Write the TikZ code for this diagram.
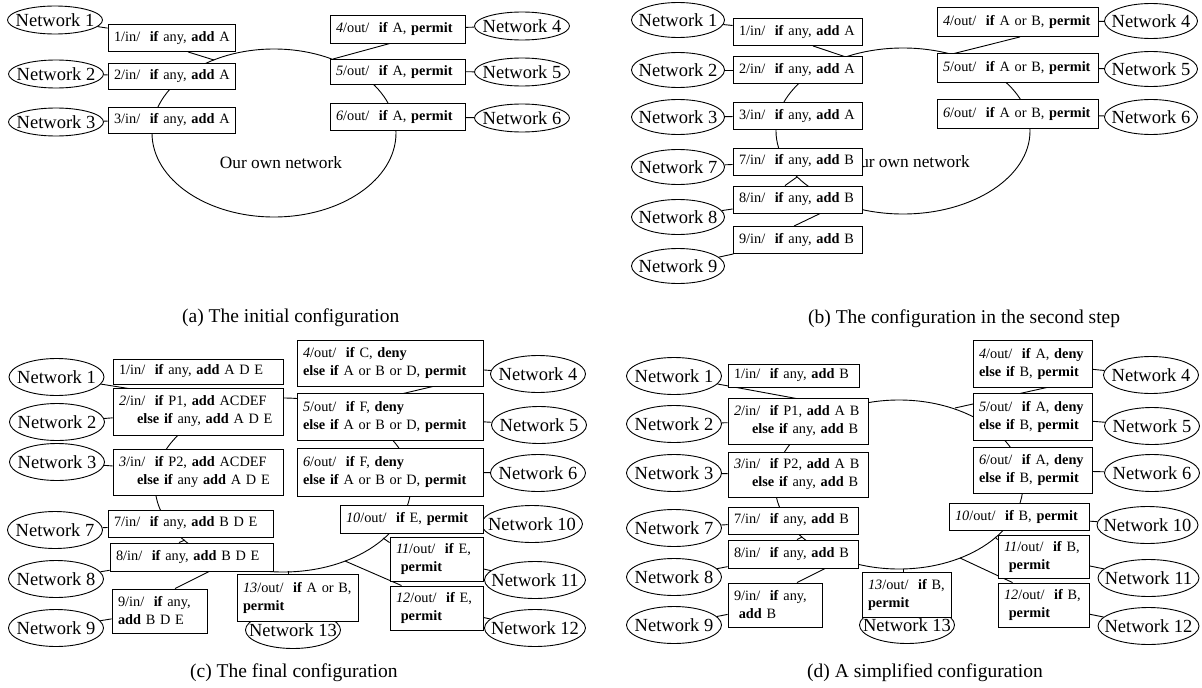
\documentclass[tikz,border=0pt]{standalone}
\usepackage{fontspec}
\setmainfont{Liberation Serif}
\usetikzlibrary{shapes.geometric}
\pgfdeclarelayer{back}
\pgfsetlayers{back,main}
\newcommand{\nwk}[1]{\makebox[0pt]{Network #1}}
\newcommand{\bd}[1]{\textbf{#1}}
\newcommand{\mybox}[6]{\node[box, text width=#4pt-12pt, minimum height=#5pt] (#1) at (#2,#3) {#6};}
\tikzset{
  box/.style={draw, fill=white, line width=0.9pt, inner xsep=6pt, inner ysep=0pt, align=left, font=\fontsize{14.3}{18}\selectfont},
  netw/.style={draw, fill=white, ellipse, line width=0.9pt, inner sep=0pt, font=\fontsize{18.5}{20}\selectfont},
  nA/.style={netw, minimum width=95pt, minimum height=28pt},
  nB/.style={netw, minimum width=93pt, minimum height=35pt},
  nC/.style={netw, minimum width=95pt, minimum height=37pt},
  nW/.style={netw, minimum width=101pt, minimum height=37pt},
  own/.style={draw, ellipse, line width=0.9pt, inner sep=0pt},
  owntxt/.style={inner sep=0pt, font=\fontsize{17.3}{18}\selectfont},
  conn/.style={line width=0.9pt},
  captxt/.style={inner sep=0pt, anchor=west, font=\fontsize{19.5}{22}\selectfont}
}
\begin{document}
\begin{tikzpicture}[x=1pt,y=-1pt]
\useasboundingbox (0,0) rectangle (1202,688);

% ---------- big ellipses ----------
\node[own, minimum width=244pt, minimum height=168pt] (Ea) at (274,133) {};
\node[own, minimum width=254pt, minimum height=166pt] (Eb) at (903,131) {};
\node[own, minimum width=256pt, minimum height=174pt] (Ec) at (283,485) {};
\node[own, minimum width=248pt, minimum height=169pt] (Ed) at (899,484.5) {};
\node[owntxt] (Ta) at (281,163) {Our own network};
\node[owntxt, anchor=east] (Tb) at (970,162) {Our own network};

% ---------- panel (a) ----------
\node[nA] (Na1) at (55,20) {\nwk{1}};
\node[nA] (Na2) at (56,74) {\nwk{2}};
\node[nA] (Na3) at (56,122) {\nwk{3}};
\node[nA] (Na4) at (522,26) {\nwk{4}};
\node[nA] (Na5) at (522,72) {\nwk{5}};
\node[nA] (Na6) at (522,118) {\nwk{6}};
\mybox{Ba1}{171.5}{38}{127}{27}{\mbox{1/in/\ \ \bd{if} any, \bd{add} A}}
\mybox{Ba2}{171.5}{76}{127}{26}{\mbox{2/in/\ \ \bd{if} any, \bd{add} A}}
\mybox{Ba3}{171.5}{120}{127}{26}{\mbox{3/in/\ \ \bd{if} any, \bd{add} A}}
\mybox{Ba4}{397.5}{29}{135}{28}{\mbox{\textit{4}/out/\ \ \bd{if} A, \bd{permit}}}
\mybox{Ba5}{397.5}{71.5}{135}{25}{\mbox{\textit{5}/out/\ \ \bd{if} A, \bd{permit}}}
\mybox{Ba6}{397.5}{117}{135}{27}{\mbox{\textit{6}/out/\ \ \bd{if} A, \bd{permit}}}
\coordinate (ea1) at (214,60);
\coordinate (ea4) at (333,59);

% ---------- panel (b) ----------
\node[nB] (Nb1) at (678,20) {\nwk{1}};
\node[nB] (Nb2) at (678,70) {\nwk{2}};
\node[nB] (Nb3) at (678,117) {\nwk{3}};
\node[nB] (Nb7) at (678,167) {\nwk{7}};
\node[nB] (Nb8) at (678,217) {\nwk{8}};
\node[nB] (Nb9) at (678,266) {\nwk{9}};
\node[nB] (Nb4) at (1151,21) {\nwk{4}};
\node[nB] (Nb5) at (1151,69) {\nwk{5}};
\node[nB] (Nb6) at (1151,117) {\nwk{6}};
\mybox{Bb1}{797.5}{32}{129}{27}{\mbox{1/in/\ \ \bd{if} any, \bd{add} A}}
\mybox{Bb2}{797.5}{70}{129}{27}{\mbox{2/in/\ \ \bd{if} any, \bd{add} A}}
\mybox{Bb3}{797.5}{116}{129}{27}{\mbox{3/in/\ \ \bd{if} any, \bd{add} A}}
\mybox{Bb7}{797.5}{161.5}{129}{27}{\mbox{7/in/\ \ \bd{if} any, \bd{add} B}}
\mybox{Bb8}{797.5}{199.5}{129}{27}{\mbox{8/in/\ \ \bd{if} any, \bd{add} B}}
\mybox{Bb9}{797.5}{240}{129}{27}{\mbox{9/in/\ \ \bd{if} any, \bd{add} B}}
\mybox{Bb4}{1017.5}{22}{161}{29}{\mbox{\textit{4}/out/\ \ \bd{if} A or B, \bd{permit}}}
\mybox{Bb5}{1017.5}{68}{161}{29}{\mbox{\textit{5}/out/\ \ \bd{if} A or B, \bd{permit}}}
\mybox{Bb6}{1017.5}{114}{161}{29}{\mbox{\textit{6}/out/\ \ \bd{if} A or B, \bd{permit}}}
\coordinate (eb1) at (846,57);
\coordinate (eb8) at (797,177);
\coordinate (eb9) at (842,203);
\coordinate (eb4) at (952,54);

% ---------- panel (c) ----------
\node[nC] (Nc1) at (56.5,377) {\nwk{1}};
\node[nC] (Nc2) at (57,422) {\nwk{2}};
\node[nC] (Nc3) at (57,462) {\nwk{3}};
\node[nC] (Nc7) at (55,530) {\nwk{7}};
\node[nC] (Nc8) at (56,579) {\nwk{8}};
\node[nC] (Nc9) at (56,628) {\nwk{9}};
\node[nC] (Nc4) at (538,374) {\nwk{4}};
\node[nC] (Nc5) at (539,425) {\nwk{5}};
\node[nC] (Nc6) at (538,473) {\nwk{6}};
\node[nW] (Nc10) at (532,524) {\nwk{10}};
\node[nW] (Nc11) at (535,580) {\nwk{11}};
\node[nW] (Nc12) at (535,628) {\nwk{12}};
\node[nC] (Nc13) at (293,630) {\nwk{13}};
\mybox{Bc1}{198}{371.5}{170}{25}{\mbox{1/in/\ \ \bd{if} any, \bd{add} A D E}}
\mybox{Bc2}{198}{411.5}{170}{47}{\mbox{\textit{2}/in/\ \ \bd{if} P1, \bd{add} ACDEF}\\\mbox{\hspace*{18pt}\bd{else if} any, \bd{add} A D E}}
\mybox{Bc3}{198}{472}{170}{46}{\mbox{\textit{3}/in/\ \ \bd{if} P2, \bd{add} ACDEF}\\\mbox{\hspace*{18pt}\bd{else if} any \bd{add} A D E}}
\mybox{Bc7}{190.5}{523.5}{165}{27}{\mbox{7/in/\ \ \bd{if} any, \bd{add} B D E}}
\mybox{Bc8}{191.5}{557}{163}{28}{\mbox{8/in/\ \ \bd{if} any, \bd{add} B D E}}
\mybox{Bc9}{159.5}{611}{95}{44}{\mbox{9/in/\ \ \bd{if} any,}\\\mbox{\bd{add} B D E}}
\mybox{Bc4}{390}{363}{186}{46}{\mbox{\textit{4}/out/\ \ \bd{if} C, \bd{deny}}\\\mbox{\bd{else if} A or B or D, \bd{permit}}}
\mybox{Bc5}{390}{416.5}{186}{47}{\mbox{\textit{5}/out/\ \ \bd{if} F, \bd{deny}}\\\mbox{\bd{else if} A or B or D, \bd{permit}}}
\mybox{Bc6}{390}{472}{186}{48}{\mbox{\textit{6}/out/\ \ \bd{if} F, \bd{deny}}\\\mbox{\bd{else if} A or B or D, \bd{permit}}}
\mybox{Bc10}{411.5}{519}{143}{28}{\mbox{\textit{10}/out/\ \ \bd{if} E, \bd{permit}}}
\mybox{Bc11}{436.5}{559}{93}{44}{\mbox{\textit{11}/out/\ \ \bd{if} E,}\\\mbox{\ \bd{permit}}}
\mybox{Bc12}{436.5}{608}{93}{44}{\mbox{\textit{12}/out/\ \ \bd{if} E,}\\\mbox{\ \bd{permit}}}
\mybox{Bc13}{297.5}{597.5}{121}{47}{\mbox{\textit{13}/out/\ \ \bd{if} A or B,}\\\mbox{\bd{permit}}}
\coordinate (ec1) at (232,405);
\coordinate (ec8) at (185,540);
\coordinate (ec9) at (224,564);
\coordinate (ec13) at (288,571);
\coordinate (ec4) at (342,408);
\coordinate (ec11) at (383,538);
\coordinate (ec12) at (345,561);

% ---------- panel (d) ----------
\node[nC] (Nd1) at (674,376) {\nwk{1}};
\node[nC] (Nd2) at (674,424) {\nwk{2}};
\node[nC] (Nd3) at (674,473) {\nwk{3}};
\node[nC] (Nd7) at (674,528) {\nwk{7}};
\node[nC] (Nd8) at (674,577) {\nwk{8}};
\node[nC] (Nd9) at (674,625) {\nwk{9}};
\node[nC] (Nd4) at (1151,375) {\nwk{4}};
\node[nC] (Nd5) at (1152,426) {\nwk{5}};
\node[nC] (Nd6) at (1152,473) {\nwk{6}};
\node[nW] (Nd10) at (1147.5,525) {\nwk{10}};
\node[nW] (Nd11) at (1148.5,578) {\nwk{11}};
\node[nW] (Nd12) at (1148.5,626) {\nwk{12}};
\node[nC] (Nd13) at (907,625) {\nwk{13}};
\mybox{Bd1}{793.5}{375.5}{131}{23}{\mbox{1/in/\ \ \bd{if} any, \bd{add} B}}
\mybox{Bd2}{798}{421}{140}{46}{\mbox{\textit{2}/in/\ \ \bd{if} P1, \bd{add} A B}\\\mbox{\hspace*{18pt}\bd{else if} any, \bd{add} B}}
\mybox{Bd3}{798}{474.5}{140}{45}{\mbox{\textit{3}/in/\ \ \bd{if} P2, \bd{add} A B}\\\mbox{\hspace*{18pt}\bd{else if} any, \bd{add} B}}
\mybox{Bd7}{793}{520.5}{130}{27}{\mbox{7/in/\ \ \bd{if} any, \bd{add} B}}
\mybox{Bd8}{793}{554}{130}{28}{\mbox{8/in/\ \ \bd{if} any, \bd{add} B}}
\mybox{Bd9}{775}{605}{94}{44}{\mbox{9/in/\ \ \bd{if} any,}\\\mbox{\ \bd{add} B}}
\mybox{Bd4}{1032.5}{363.5}{119}{47}{\mbox{\textit{4}/out/\ \ \bd{if} A, \bd{deny}}\\\mbox{\bd{else if} B, \bd{permit}}}
\mybox{Bd5}{1032.5}{416.5}{119}{47}{\mbox{\textit{5}/out/\ \ \bd{if} A, \bd{deny}}\\\mbox{\bd{else if} B, \bd{permit}}}
\mybox{Bd6}{1032.5}{470}{119}{46}{\mbox{\textit{6}/out/\ \ \bd{if} A, \bd{deny}}\\\mbox{\bd{else if} B, \bd{permit}}}
\mybox{Bd10}{1019}{516.5}{140}{27}{\mbox{\textit{10}/out/\ \ \bd{if} B, \bd{permit}}}
\mybox{Bd11}{1043.5}{556.5}{91}{43}{\mbox{\textit{11}/out/\ \ \bd{if} B,}\\\mbox{\ \bd{permit}}}
\mybox{Bd12}{1043.5}{605}{91}{44}{\mbox{\textit{12}/out/\ \ \bd{if} B,}\\\mbox{\ \bd{permit}}}
\mybox{Bd13}{906.5}{594.5}{89}{45}{\mbox{\textit{13}/out/\ \ \bd{if} B,}\\\mbox{\bd{permit}}}
\coordinate (ed1) at (848,408);
\coordinate (ed8) at (802,537);
\coordinate (ed9) at (842,560);
\coordinate (ed13) at (903,569);
\coordinate (ed4) at (955,408);
\coordinate (ed11) at (995,537);
\coordinate (ed12) at (960,558);

% ---------- captions ----------
\node[captxt] (Ca) at (182,318) {(a) The initial configuration};
\node[captxt] (Cb) at (808,319) {(b) The configuration in the second step};
\node[captxt] (Cc) at (190,673) {(c) The final configuration};
\node[captxt] (Cd) at (807,673) {(d) A simplified configuration};

% ---------- connectors (behind) ----------
\begin{pgfonlayer}{back}
\fill[white] (0,0) rectangle (1202,688);
% (a)
\draw[conn] (Na1) -- (Ba1);
\draw[conn] (Na2) -- (Ba2);
\draw[conn] (Na3) -- (Ba3);
\draw[conn] (Ba4) -- (Na4);
\draw[conn] (Ba5) -- (Na5);
\draw[conn] (Ba6) -- (Na6);
\draw[conn] ([xshift=16.5pt]Ba1.south) -- (ea1);
\draw[conn] ([xshift=-7.5pt]Ba4.south) -- (ea4);
% (b)
\foreach \i in {1,2,3,7,8,9} {\draw[conn] (Nb\i) -- (Bb\i);}
\foreach \i in {4,5,6} {\draw[conn] (Bb\i) -- (Nb\i);}
\draw[conn] ([xshift=15.5pt]Bb1.south) -- (eb1);
\draw[conn] ([xshift=-12.5pt]Bb8.north) -- (eb8);
\draw[conn] ([xshift=-3.5pt]Bb9.north) -- (eb9);
\draw[conn] ([xshift=2.5pt]Bb4.south) -- (eb4);
% (c)
\draw[conn] (Nc1) -- (ec1);
\foreach \i in {2,3,7,8,9} {\draw[conn] (Nc\i) -- (Bc\i);}
\foreach \i in {4,5,6,10,11,12} {\draw[conn] (Bc\i) -- (Nc\i);}
\draw[conn] ([xshift=-12.5pt]Bc8.north) -- (ec8);
\draw[conn] ([xshift=15.5pt]Bc9.north) -- (ec9);
\draw[conn] ([xshift=-9.5pt]Bc13.north) -- (ec13);
\draw[conn] ([xshift=43pt]Bc4.south) -- (ec4);
\draw[conn] ([yshift=-6pt]Bc11.north west) -- (ec11);
\draw[conn] ([xshift=12pt]Bc12.north west) -- (ec12);
% (d)
\draw[conn] (Nd1) -- (ed1);
\foreach \i in {2,3,7,8,9} {\draw[conn] (Nd\i) -- (Bd\i);}
\foreach \i in {4,5,6,10,11,12} {\draw[conn] (Bd\i) -- (Nd\i);}
\draw[conn] ([xshift=4pt]Bd8.north) -- (ed8);
\draw[conn] ([xshift=22pt]Bd9.north) -- (ed9);
\draw[conn] ([xshift=-3.5pt]Bd13.north) -- (ed13);
\draw[conn] ([xshift=14.5pt]Bd4.south) -- (ed4);
\draw[conn] ([yshift=-5pt]Bd11.north west) -- (ed11);
\draw[conn] ([xshift=15pt]Bd12.north west) -- (ed12);
\end{pgfonlayer}
\end{tikzpicture}
\end{document}
